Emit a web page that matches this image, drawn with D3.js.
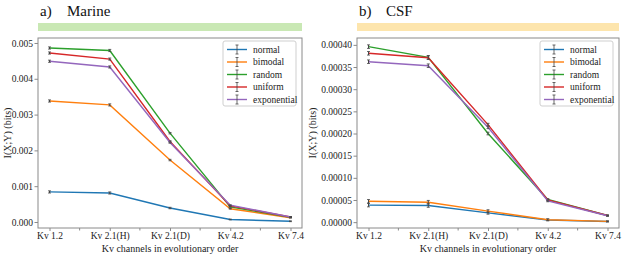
<!DOCTYPE html>
<html>
<head>
<meta charset="utf-8">
<script src="https://cdn.jsdelivr.net/npm/d3@7"></script>
<style>
  body { margin: 0; background: #fff; }
  svg, svg text { font-family: "Liberation Serif", "Times New Roman", "DejaVu Serif", serif !important; }
</style>
</head>
<body>
<div id="chart"></div>
<script>
const categories = ["Kv 1.2", "Kv 2.1(H)", "Kv 2.1(D)", "Kv 4.2", "Kv 7.4"];
const seriesNames = ["normal", "bimodal", "random", "uniform", "exponential"];
const colors = ["#1f77b4", "#ff7f0e", "#2ca02c", "#d62728", "#9467bd"];

// a) Marine
const marineNormal      = [0.00084, 0.00081, 0.00039, 0.00007, 0.00002];
const marineBimodal     = [0.00338, 0.00327, 0.00173, 0.00037, 0.00012];
const marineRandom      = [0.00486, 0.00479, 0.00248, 0.00042, 0.00013];
const marineUniform     = [0.00472, 0.00455, 0.00225, 0.00045, 0.00014];
const marineExponential = [0.00449, 0.00433, 0.00222, 0.00047, 0.00014];
const marineErr         = [0.00003, 0.00003, 0.00002, 0.00001, 0.00001];
const marineTicks = [0, 0.001, 0.002, 0.003, 0.004, 0.005];

// b) CSF
const csfNormal      = [0.0000385, 0.0000375, 0.0000210, 0.0000050, 0.0000015];
const csfBimodal     = [0.0000470, 0.0000450, 0.0000250, 0.0000055, 0.0000018];
const csfRandom      = [0.000396, 0.000372, 0.000200, 0.0000510, 0.0000150];
const csfUniform     = [0.000381, 0.000371, 0.000220, 0.0000500, 0.0000150];
const csfExponential = [0.000362, 0.000353, 0.000214, 0.0000480, 0.0000145];
const csfErr         = [0.000004, 0.000004, 0.000003, 0.000002, 0.000001];
const csfTicks = [0, 0.00005, 0.0001, 0.00015, 0.0002, 0.00025, 0.0003, 0.00035, 0.0004];

const W = 625, H = 257;
const serif = "Liberation Serif, Times New Roman, serif";
const svg = d3.select("#chart").append("svg")
  .attr("width", W).attr("height", H)
  .attr("font-family", serif);

function panel(opt) {
  const { left, right, top, bottom, title, label, barColor, series, err, ticks, fmt, yDomain, ylabelX } = opt;

  // title + coloured strip
  svg.append("text").attr("x", left + 2).attr("y", 16)
    .attr("font-size", 15).attr("fill", "#111").text(label);
  svg.append("text").attr("x", left + 29).attr("y", 16)
    .attr("font-size", 15).attr("fill", "#111").text(title);
  svg.append("rect").attr("x", left).attr("y", 23)
    .attr("width", right - left).attr("height", 8)
    .attr("fill", barColor);

  const x = d3.scalePoint().domain(categories).range([left + 11.5, right - 11.5]);
  const y = d3.scaleLinear().domain(yDomain).range([bottom, top]);

  // frame
  svg.append("rect").attr("x", left).attr("y", top)
    .attr("width", right - left).attr("height", bottom - top)
    .attr("fill", "none").attr("stroke", "#8a8a8a").attr("stroke-width", 1);

  const gy = svg.append("g").attr("transform", `translate(${left},0)`)
    .call(d3.axisLeft(y).tickValues(ticks).tickFormat(d3.format(fmt)).tickSize(3.5).tickPadding(1.5));
  const gx = svg.append("g").attr("transform", `translate(0,${bottom})`)
    .call(d3.axisBottom(x).tickSize(3).tickPadding(1.5));
  [gx, gy].forEach(g => {
    g.attr("font-family", serif).attr("font-size", 9.5);
    g.select(".domain").remove();
    g.selectAll("line").attr("stroke", "#8a8a8a");
    g.selectAll("text").attr("fill", "#222");
  });

  // minor ticks between categories
  const mids = d3.pairs(categories).map(p => (x(p[0]) + x(p[1])) / 2);
  svg.append("g").selectAll("line").data(mids).join("line")
    .attr("x1", d => d).attr("x2", d => d)
    .attr("y1", bottom).attr("y2", bottom + 2.5)
    .attr("stroke", "#8a8a8a");

  svg.append("text")
    .attr("transform", `translate(${ylabelX},${(top + bottom) / 2}) rotate(-90)`)
    .attr("text-anchor", "middle").attr("font-size", 10).attr("fill", "#222").text("I(X;Y) (bits)");
  svg.append("text").attr("x", (left + right) / 2).attr("y", 251.5)
    .attr("text-anchor", "middle").attr("font-size", 10).attr("fill", "#222")
    .text("Kv channels in evolutionary order");

  const line = d3.line().x((d, i) => x(categories[i])).y(d => y(d));
  series.forEach((vals, si) => {
    svg.append("path").datum(vals).attr("d", line)
      .attr("fill", "none").attr("stroke", colors[si]).attr("stroke-width", 1.4);
    const g = svg.append("g");
    vals.forEach((v, i) => {
      const cx = x(categories[i]);
      const y1 = y(v - err[i]), y2 = y(v + err[i]);
      g.append("line").attr("x1", cx).attr("x2", cx).attr("y1", y1).attr("y2", y2)
        .attr("stroke", "#444").attr("stroke-width", 1);
      [y1, y2].forEach(yy => g.append("line")
        .attr("x1", cx - 1.5).attr("x2", cx + 1.5).attr("y1", yy).attr("y2", yy)
        .attr("stroke", "#444").attr("stroke-width", 0.8));
    });
  });

  // legend
  const lx = right - 79, ly = top + 3;
  svg.append("rect").attr("x", lx).attr("y", ly).attr("width", 73).attr("height", 65)
    .attr("rx", 2).attr("fill", "#fff").attr("stroke", "#cfcfcf");
  seriesNames.forEach((n, i) => {
    const yy = ly + 8.5 + i * 12.5;
    svg.append("line").attr("x1", lx + 4).attr("x2", lx + 24).attr("y1", yy).attr("y2", yy)
      .attr("stroke", colors[i]).attr("stroke-width", 1.4);
    svg.append("line").attr("x1", lx + 14).attr("x2", lx + 14).attr("y1", yy - 4.5).attr("y2", yy + 4.5)
      .attr("stroke", "#444").attr("stroke-width", 0.8);
    [yy - 4.5, yy + 4.5].forEach(c => svg.append("line")
      .attr("x1", lx + 12.5).attr("x2", lx + 15.5).attr("y1", c).attr("y2", c)
      .attr("stroke", "#444").attr("stroke-width", 0.8));
    svg.append("text").attr("x", lx + 30).attr("y", yy + 3)
      .attr("font-size", 9.5).attr("fill", "#222").text(n);
  });
}

panel({
  left: 38, right: 302, top: 38, bottom: 228, ylabelX: 11,
  label: "a)", title: "Marine", barColor: "#c9e8b4",
  series: [marineNormal, marineBimodal, marineRandom, marineUniform, marineExponential],
  err: marineErr, ticks: marineTicks, fmt: ".3f",
  yDomain: [-0.000168, 0.005139]
});

panel({
  left: 357, right: 619, top: 38, bottom: 228, ylabelX: 316,
  label: "b)", title: "CSF", barColor: "#fde5ad",
  series: [csfNormal, csfBimodal, csfRandom, csfUniform, csfExponential],
  err: csfErr, ticks: csfTicks, fmt: ".5f",
  yDomain: [-0.0000132, 0.0004155]
});
</script>
</body>
</html>
